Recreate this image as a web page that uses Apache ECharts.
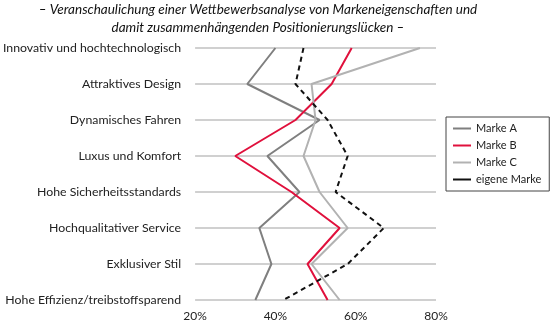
<!DOCTYPE html>
<html><head><meta charset="utf-8">
<script src="https://cdn.jsdelivr.net/npm/echarts@6/dist/echarts.min.js"></script>
<style>html,body{margin:0;padding:0;background:#fff}#c{width:553px;height:325px}</style>
</head><body><div id="c"></div>
<script>
const categories = ["Innovativ und hochtechnologisch","Attraktives Design","Dynamisches Fahren","Luxus und Komfort","Hohe Sicherheitsstandards","Hochqualitativer Service","Exklusiver Stil","Hohe Effizienz/treibstoffsparend"];
const markeA = [40,33,51,38,46,36,39,35];
const markeB = [59,54,45,30,44,56,48,53];
const markeC = [76,49,50,47,51,58,49,56];
const eigene = [47,45,53,58,55,67,58,42];
const xTicks = [20,40,60,80];
const FONT = "Lato";
const chart = echarts.init(document.getElementById('c'));
function s(name, data, color, type){
  return {name, type:'line', data, symbol:'none', smooth:false,
    lineStyle:{color, width:2, type:type||'solid'}, itemStyle:{color}};
}
chart.setOption({
  animation:false,
  textStyle:{fontFamily:FONT},
  title:{text:"– Veranschaulichung einer Wettbewerbsanalyse von Markeneigenschaften und\ndamit zusammenhängenden Positionierungslücken –",
    left:258, textAlign:'center', top:1, padding:[0,0,0,0],
    textStyle:{fontFamily:FONT,fontSize:13.5,fontStyle:'italic',fontWeight:'normal',color:'#111',lineHeight:18}},
  legend:{orient:'vertical', left:446, top:117, itemWidth:18, itemHeight:2, itemGap:6,
    borderColor:'#444', borderWidth:1, padding:[6,8,6,7],
    textStyle:{fontFamily:FONT,fontSize:11,color:'#222'},
    icon:'path://M0,0L18,0L18,2L0,2Z',
    data:['Marke A','Marke B','Marke C','eigene Marke']},
  grid:{left:192,right:117,top:48,bottom:25,containLabel:false},
  xAxis:{type:'value', min:xTicks[0], max:xTicks[xTicks.length-1], interval:20,
    axisLine:{show:false}, axisTick:{show:false}, splitLine:{show:false},
    axisLabel:{formatter:v=>v+'%', fontFamily:FONT, fontSize:12, color:'#222', margin:10}},
  yAxis:{type:'category', data:categories, inverse:true, boundaryGap:false,
    axisLine:{show:false}, axisTick:{show:false},
    splitLine:{show:true, lineStyle:{color:'#c0c0c0', width:1.5}},
    axisLabel:{fontFamily:FONT, fontSize:12.3, color:'#222', margin:14}},
  series:[
    s('Marke A', markeA, '#7f7f7f'),
    s('Marke B', markeB, '#e0103c'),
    s('Marke C', markeC, '#b2b2b2'),
    s('eigene Marke', eigene, '#111', [5,4])
  ]
});
</script></body></html>
